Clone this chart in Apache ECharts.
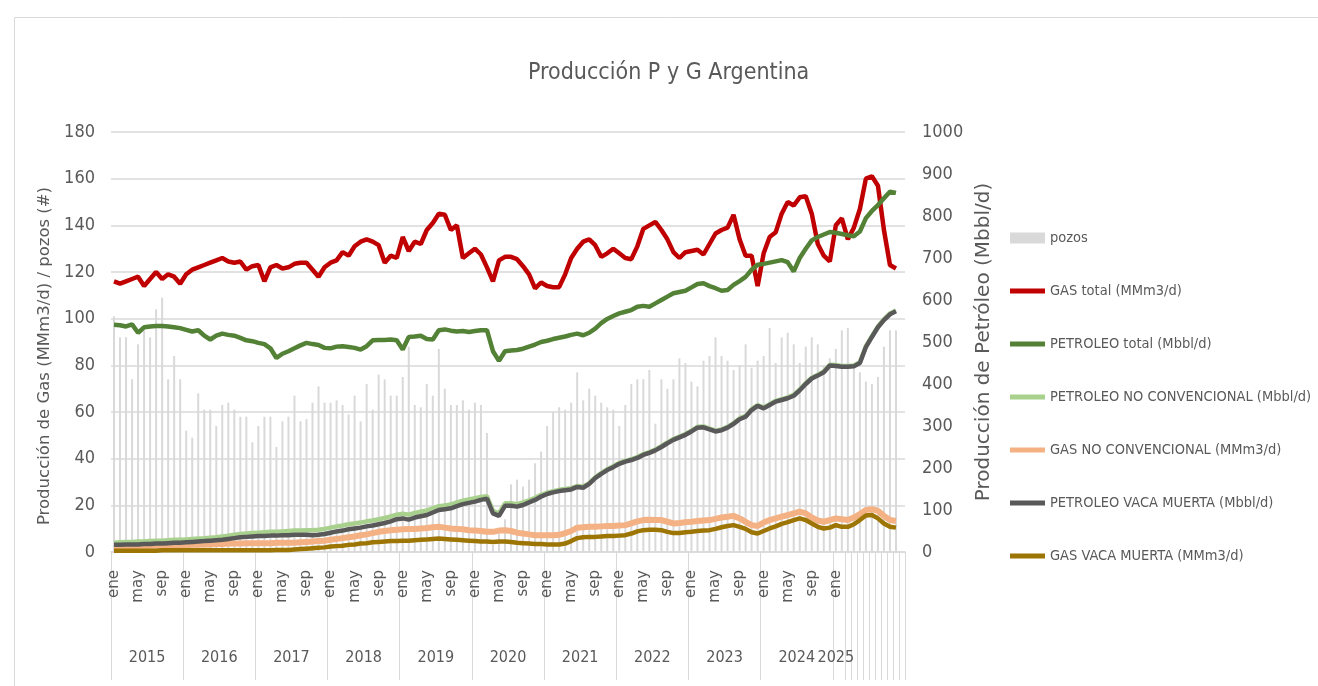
<!DOCTYPE html>
<html><head><meta charset="utf-8">
<script src="https://cdn.jsdelivr.net/npm/echarts@6/dist/echarts.min.js"></script>
<style>html,body{margin:0;padding:0;background:#fff}#c{width:1318px;height:686px}</style>
</head><body><div id="c"></div>
<script>
const monthNames = ['ene','feb','mar','abr','may','jun','jul','ago','sep','oct','nov','dic'];
const years = [2015,2016,2017,2018,2019,2020,2021,2022,2023,2024,2025];
const shownMonths = ['ene','may','sep'];

const pozos = [
 101,92,92,74,89,95,92,104,109,74,84,74,
 52,49,68,61,61,54,63,64,61,58,58,47,
 54,58,58,45,56,58,67,56,57,64,71,64,
 64,65,63,59,67,56,72,61,76,74,67,67,
 75,88,63,62,72,67,87,70,63,63,65,61,
 64,63,51,3,8,14,29,31,28,31,38,43,
 54,60,62,61,64,77,65,70,67,64,62,61,
 54,63,72,74,74,78,55,74,70,74,83,81,
 73,71,82,84,92,84,82,78,80,89,79,82,
 84,96,81,92,94,89,81,88,92,89,80,83,
 87,95,96,80,77,73,72,75,88,95,95
];
const gasTotal = [
 116,115,116,117,118,114,117,120,117,119,118,115,
 119,121,122,123,124,125,126,124.5,124,124.5,121,122.5,
 123,116,122,123,121.5,122,123.5,124,124,121,118,122,
 124,125,128.5,127,131,133,134,133,131.5,124,127,126,
 135,129,133,132,138,141,145,144.5,138,140,126,128,
 130,127.5,122,116,125,126.5,126.5,125.5,122.5,119,113,115.5,
 114,113.5,113.5,119,126,130,133,134,131.5,126.5,128,130,
 128,126,125.5,131,138.5,140,141.5,138,134,128.5,126,128.5,
 129,129.5,127.5,132,136.5,138,139,144.5,134,127,127,114,
 128,135,137,145,150,148.5,152,152.5,145,132,127,124.5,
 140,143,134,139,147,160,161,157,138,123,121.5
];
const petroTotal = [
 541,540,537,542,522,535,537,538,538,537,535,533,
 529,525,528,515,506,515,520,517,515,510,504,502,
 498,495,485,462,472,478,485,492,498,495,493,486,
 485,489,490,488,486,482,490,504,505,505,506,504,
 482,512,513,515,507,506,528,530,527,525,526,524,
 526,528,528,478,455,478,480,481,484,489,494,500,
 503,507,510,513,517,520,516,522,532,545,555,562,
 568,572,576,584,586,584,592,600,608,616,619,622,
 630,638,640,633,628,622,624,636,645,655,672,684,
 686,689,692,695,690,668,700,722,742,750,756,762,
 760,757,754,752,763,795,812,826,842,858,855
];
const petroNC = [
 22,23,24,24,25,25,26,27,27,28,29,29,
 30,31,32,33,34,35,37,39,41,43,44,45,
 46,47,48,48,49,50,51,51,52,52,53,55,
 58,61,63,66,68,70,73,75,78,81,85,89,
 91,89,93,96,99,104,109,111,113,118,122,125,
 128,131,133,98,92,116,116,114,118,123,129,136,
 141,145,148,150,152,157,156,164,178,188,197,204,
 212,217,221,226,233,238,244,252,261,269,275,281,
 289,298,299,294,289,292,298,307,318,324,340,350,
 344,352,360,364,368,374,387,402,415,422,430,446,
 445,443,443,444,452,490,514,537,554,568,575
];
const gasNC = [
 12,12,13,13,13,14,14,15,15,15,16,16,
 16,17,17,18,18,19,19,20,20,20,21,21,
 21,21,21,22,22,22,22,23,24,25,26,27,
 29,31,33,35,37,40,42,45,48,50,52,53,
 54,55,55,56,57,59,60,58,56,55,54,52,
 51,50,48,48,51,52,50,46,44,42,40,40,
 40,40,41,45,50,58,59,60,60,61,62,62,
 63,64,68,73,76,77,76,76,72,68,69,71,
 72,74,75,76,79,82,84,86,80,72,64,62,
 70,76,80,84,88,92,96,92,82,75,72,76,
 80,78,76,82,90,100,102,98,86,76,74
];
const petroVM = [
 17,17,18,18,18,19,19,20,20,21,22,22,
 23,24,25,26,27,28,29,31,33,35,36,37,
 38,38,39,39,40,40,41,41,41,40,41,43,
 46,49,51,54,56,58,61,63,66,69,73,78,
 80,77,82,85,88,94,100,102,104,109,114,117,
 120,124,127,92,86,110,110,108,112,118,124,132,
 138,142,145,147,149,155,153,162,176,186,195,202,
 210,215,219,224,231,236,242,250,259,267,273,279,
 287,296,297,292,287,290,296,305,316,322,338,348,
 342,350,358,362,366,372,385,400,413,420,428,444,
 443,441,441,442,450,488,512,535,552,566,573
];
const gasVM = [
 3,3,3,3,3,3,3,3,4,4,4,4,
 4,4,4,4,4,4,4,4,4,4,4,4,
 4,4,4,5,5,5,6,7,8,9,10,11,
 13,14,15,17,18,20,21,23,24,25,26,26,
 27,27,28,29,30,31,32,31,30,29,28,27,
 26,25,25,24,25,25,24,22,21,20,19,19,
 18,18,18,20,26,33,35,36,36,37,38,38,
 39,40,44,49,52,53,53,52,48,45,45,47,
 48,50,51,52,55,59,62,64,60,55,47,44,
 50,56,61,67,71,76,80,76,68,60,56,58,
 64,60,60,66,76,87,88,80,68,60,58
];
const leftTicks = {min:0, max:180, interval:20};
const rightTicks = {min:0, max:1000, interval:100};

const categories = [];
years.forEach(y => monthNames.forEach(m => categories.push(m)));
const nCat = categories.length;
const lastYearStart = (years.length - 1) * 12;
const yearLabelPos = years.map((y, k) => k < years.length - 1 ? k * 12 + 6 : lastYearStart + 0.5);

const narrow = "'Liberation Sans Narrow','DejaVu Sans Condensed','Roboto Condensed',sans-serif";
const wide = "'DejaVu Sans','Verdana',sans-serif";
const txt = '#595959';
const grid = '#d9d9d9';

const lineIcon = 'path://M0,0H70V10H0Z';

const chart = echarts.init(document.getElementById('c'), null, {renderer:'canvas'});
chart.setOption({
  animation:false,
  backgroundColor:'#fff',
  graphic:[{type:'rect', left:12, top:15, shape:{width:1400, height:800}, style:{fill:'none', stroke:'#d9d9d9', lineWidth:1}, silent:true, z:-10}],
  title:{text:'Producción P y G Argentina', left:528, top:62, padding:0,
    textStyle:{fontFamily:narrow, fontSize:23, fontWeight:'normal', color:txt}},
  legend:{orient:'vertical', left:1010, top:228, padding:0, itemWidth:35, itemHeight:11, itemGap:33,
    textStyle:{fontFamily:narrow, fontSize:14.5, color:txt, lineHeight:20},
    data:[
      {name:'pozos', icon:'rect'},
      {name:'GAS total (MMm3/d)', icon:lineIcon},
      {name:'PETROLEO total (Mbbl/d)', icon:lineIcon},
      {name:'PETROLEO NO CONVENCIONAL (Mbbl/d)', icon:lineIcon},
      {name:'GAS NO CONVENCIONAL (MMm3/d)', icon:lineIcon},
      {name:'PETROLEO VACA MUERTA (Mbbl/d)', icon:lineIcon},
      {name:'GAS VACA MUERTA (MMm3/d)', icon:lineIcon}
    ]},
  grid:{left:111, right:413, top:132, bottom:134, containLabel:false},
  xAxis:[
    {type:'category', data:categories, boundaryGap:true,
     axisLine:{show:true, lineStyle:{color:grid, width:1.5}},
     axisTick:{show:true, length:128, interval:(i)=> i % 12 === 0 || i >= lastYearStart + 2, lineStyle:{color:grid, width:1}},
     axisLabel:{rotate:90, margin:18, fontFamily:wide, fontSize:15, color:txt,
       interval:(i, v)=> (i < lastYearStart ? shownMonths.indexOf(v) >= 0 : i === lastYearStart)},
     splitLine:{show:false}},
    {type:'value', min:0, max:nCat, position:'bottom',
     axisLine:{show:false}, axisTick:{show:false}, splitLine:{show:false},
     axisLabel:{customValues:yearLabelPos, showMinLabel:true, showMaxLabel:true, hideOverlap:false,
       margin:98, fontFamily:narrow, fontSize:16, color:txt,
       formatter:(v)=> { let k = -1; yearLabelPos.forEach((p, j) => { if (Math.abs(p - v) < 0.01) k = j; }); return k >= 0 ? String(years[k]) : ''; }}}
  ],
  yAxis:[
    {type:'value', min:leftTicks.min, max:leftTicks.max, interval:leftTicks.interval, position:'left',
     name:'Producción de Gas (MMm3/d) / pozos (#)', nameLocation:'middle', nameRotate:90, nameGap:58,
     nameTextStyle:{fontFamily:wide, fontSize:16.5, color:txt, padding:[0,0,0,-28]},
     axisLine:{show:false}, axisTick:{show:false},
     axisLabel:{fontFamily:narrow, fontSize:18, color:txt, margin:16},
     splitLine:{show:true, lineStyle:{color:grid, width:1.6}}},
    {type:'value', min:rightTicks.min, max:rightTicks.max, interval:rightTicks.interval, position:'right',
     name:'Producción de Petróleo (Mbbl/d)', nameLocation:'middle', nameRotate:90, nameGap:52,
     nameTextStyle:{fontFamily:wide, fontSize:20, color:txt},
     axisLine:{show:false}, axisTick:{show:false},
     axisLabel:{fontFamily:narrow, fontSize:18, color:txt, margin:17, formatter:(v)=> String(v)},
     splitLine:{show:false}}
  ],
  series:[
    {name:'pozos', type:'bar', yAxisIndex:0, data:pozos, barWidth:2, itemStyle:{color:'#d9d9d9'}},
    {name:'GAS total (MMm3/d)', type:'line', yAxisIndex:0, data:gasTotal, symbol:'none', color:'#c00000', lineStyle:{width:4.5, color:'#c00000'}},
    {name:'PETROLEO total (Mbbl/d)', type:'line', yAxisIndex:1, data:petroTotal, symbol:'none', color:'#538135', lineStyle:{width:4.5, color:'#538135'}},
    {name:'PETROLEO NO CONVENCIONAL (Mbbl/d)', type:'line', yAxisIndex:1, data:petroNC, symbol:'none', color:'#a9d18e', lineStyle:{width:4.5, color:'#a9d18e'}},
    {name:'GAS NO CONVENCIONAL (MMm3/d)', type:'line', yAxisIndex:1, data:gasNC, symbol:'none', color:'#f4b183', lineStyle:{width:6, color:'#f4b183'}},
    {name:'PETROLEO VACA MUERTA (Mbbl/d)', type:'line', yAxisIndex:1, data:petroVM, symbol:'none', color:'#595959', lineStyle:{width:4.5, color:'#595959'}},
    {name:'GAS VACA MUERTA (MMm3/d)', type:'line', yAxisIndex:1, data:gasVM, symbol:'none', color:'#9c7505', lineStyle:{width:4.5, color:'#9c7505'}}
  ]
});
</script></body></html>
